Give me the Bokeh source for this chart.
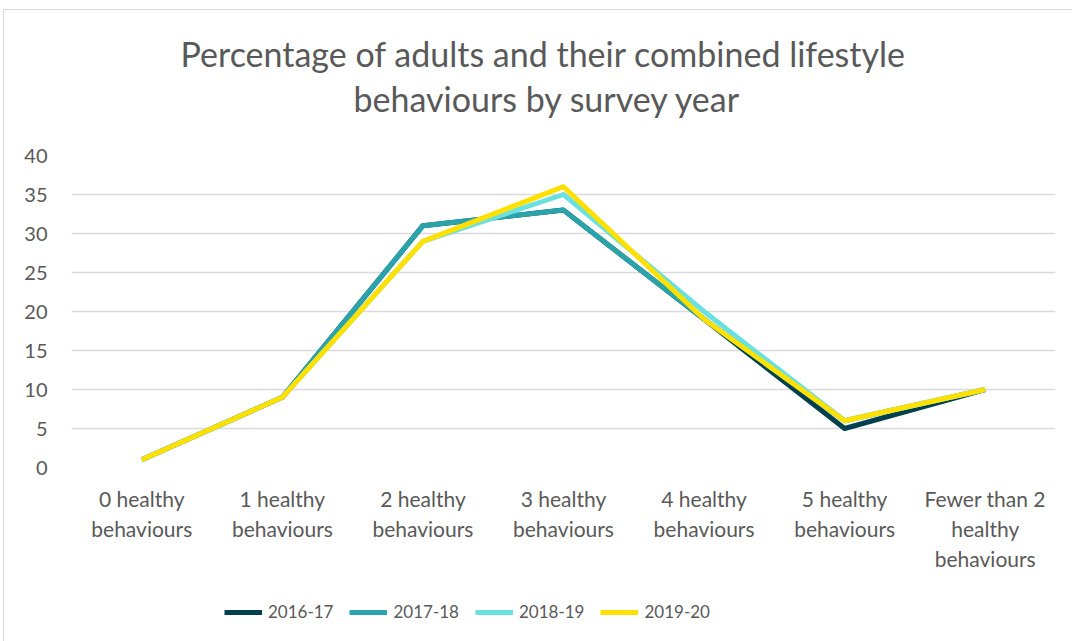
from bokeh.plotting import figure
from bokeh.models import Range1d, FactorRange, Legend, LegendItem, FixedTicker, Title
from bokeh.layouts import column
from bokeh.embed import file_html
from bokeh.resources import INLINE

categories = ["0 healthy\nbehaviours", "1 healthy\nbehaviours", "2 healthy\nbehaviours",
              "3 healthy\nbehaviours", "4 healthy\nbehaviours", "5 healthy\nbehaviours",
              "Fewer than 2\nhealthy\nbehaviours"]
s2016 = [1, 9, 31, 33, 19, 5, 10]
s2017 = [1, 9, 31, 33, 19, 6, 10]
s2018 = [1, 9, 29, 35, 20, 6, 10]
s2019 = [1, 9, 29, 36, 19, 6, 10]
series_names = ["2016-17", "2017-18", "2018-19", "2019-20"]
series_values = [s2016, s2017, s2018, s2019]
colors = ["#00404f", "#2aa3aa", "#6be0e0", "#ffe000"]
y_ticks = [0, 5, 10, 15, 20, 25, 30, 35, 40]
title_lines = ["Percentage of adults and their combined lifestyle", "behaviours by survey year"]

FONT = "Lato"
GREY = "#595959"

p1 = figure(width=1068, height=573, x_range=FactorRange(*categories), y_range=Range1d(0, 40),
            output_backend="svg", toolbar_location=None,
            min_border_left=67, min_border_right=17, min_border_top=145, min_border_bottom=116)
p1.outline_line_color = None
p1.background_fill_color = "white"
p1.border_fill_color = "white"

# spacer closest to the frame, then line 2, then line 1 (outermost)
p1.add_layout(Title(text=" ", text_font_size="1px", standoff=33), "above")
for line, off in zip(reversed(title_lines), [282, 109]):
    p1.add_layout(Title(text=line, align="left", offset=off, text_font=FONT, text_font_size="34px",
                        text_font_style="normal", text_color=GREY, standoff=2), "above")

p1.xgrid.grid_line_color = None
p1.ygrid.grid_line_color = "#d9d9d9"
p1.ygrid.grid_line_width = 1.5
p1.yaxis.ticker = FixedTicker(ticks=y_ticks)

for ax in (p1.xaxis[0], p1.yaxis[0]):
    ax.axis_line_color = None
    ax.major_tick_line_color = None
    ax.minor_tick_line_color = None
    ax.major_label_text_font = FONT
    ax.major_label_text_color = GREY
p1.yaxis.major_label_text_font_size = "20px"
p1.xaxis.major_label_text_font_size = "21px"
p1.yaxis.major_label_standoff = 18
p1.xaxis.major_label_standoff = 12

for name, vals, c in zip(series_names, series_values, colors):
    p1.line(categories, vals, line_color=c, line_width=5, line_join="round")

# legend strip below the chart (its proxy lines lie outside its visible range)
p2 = figure(width=1068, height=58, x_range=Range1d(0, 6), y_range=Range1d(-20, -19),
            x_axis_type=None, y_axis_type=None, output_backend="svg", toolbar_location=None,
            min_border_left=0, min_border_right=0, min_border_top=0, min_border_bottom=0)
p2.outline_line_color = None
p2.grid.grid_line_color = None
p2.background_fill_color = "white"
p2.border_fill_color = "white"

items = []
for name, vals, c in zip(series_names, series_values, colors):
    r = p2.line(x=list(range(len(vals))), y=vals, line_color=c, line_width=5)
    items.append(LegendItem(label=name, renderers=[r]))

legend = Legend(items=items, orientation="horizontal", location=(153, 19),
                label_text_font=FONT, label_text_font_size="17px", label_text_color=GREY,
                glyph_width=38, glyph_height=18, label_standoff=6, spacing=16,
                background_fill_alpha=0, border_line_color=None, padding=0, margin=0)
p2.add_layout(legend, "center")

layout = column(p1, p2, spacing=0)
layout.styles = {"margin-left": "3px", "margin-top": "9px",
                 "border-left": "1px solid #d9d9d9", "border-top": "1px solid #d9d9d9"}

open("out.html", "w").write(file_html(layout, INLINE))
